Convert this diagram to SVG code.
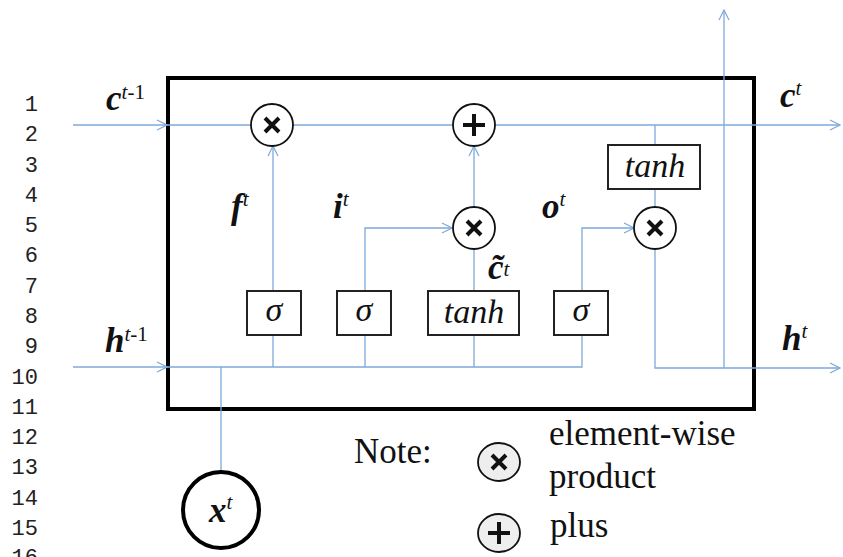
<svg xmlns="http://www.w3.org/2000/svg" width="843" height="557" viewBox="0 0 843 557">
  <defs>
    <marker id="arr" viewBox="0 0 12 12" refX="11" refY="6" markerWidth="12" markerHeight="12" markerUnits="userSpaceOnUse" orient="auto">
      <path d="M1,1 L11,6 L1,11" fill="none" stroke="#7ea9db" stroke-width="1.2"/>
    </marker>
  </defs>
  <style>
    .ln { font-family: 'Liberation Mono', monospace; font-size: 22px; fill: #222; text-anchor: end; }
    .wire { fill: none; stroke: #7ea9db; stroke-width: 1.3; }
    .op { fill: #fff; stroke: #111; stroke-width: 1.8; }
    .opl { fill: #eee; stroke: #111; stroke-width: 1.8; }
    .glyph { stroke: #111; stroke-width: 4; fill: none; }
    .box { fill: #fff; stroke: #222; stroke-width: 2; }
    .fn { font-family: 'Liberation Serif', serif; font-style: italic; font-size: 34px; fill: #111; text-anchor: middle; }
    .var { font-family: 'Liberation Serif', serif; font-style: italic; font-weight: bold; font-size: 35px; fill: #111; }
    .sup { font-style: italic; font-weight: normal; font-size: 21px; }
    .up { font-style: normal; font-weight: normal; font-size: 21px; }
    .note { font-family: 'Liberation Serif', serif; font-size: 35px; fill: #111; }
  </style>

  <!-- line numbers -->
  <g id="line-numbers">
    <text class="ln" x="38" y="111">1</text>
    <text class="ln" x="38" y="141">2</text>
    <text class="ln" x="38" y="172">3</text>
    <text class="ln" x="38" y="202">4</text>
    <text class="ln" x="38" y="232">5</text>
    <text class="ln" x="38" y="262">6</text>
    <text class="ln" x="38" y="293">7</text>
    <text class="ln" x="38" y="323">8</text>
    <text class="ln" x="38" y="353">9</text>
    <text class="ln" x="38" y="384">10</text>
    <text class="ln" x="38" y="414">11</text>
    <text class="ln" x="38" y="444">12</text>
    <text class="ln" x="38" y="474">13</text>
    <text class="ln" x="38" y="505">14</text>
    <text class="ln" x="38" y="535">15</text>
    <text class="ln" x="38" y="564">16</text>
  </g>

  <!-- cell boundary -->
  <g id="cell">
    <rect x="168" y="78" width="586" height="331" fill="none" stroke="#000" stroke-width="4"/>
  </g>

  <!-- connectors -->
  <g id="connectors">
    <line class="wire" x1="73" y1="125" x2="167" y2="125" marker-end="url(#arr)"/>
    <line class="wire" x1="167" y1="125" x2="251" y2="125"/>
    <line class="wire" x1="293" y1="125" x2="453" y2="125"/>
    <line class="wire" x1="495" y1="125" x2="840" y2="125" marker-end="url(#arr)"/>
    <line class="wire" x1="73" y1="367" x2="167" y2="367" marker-end="url(#arr)"/>
    <polyline class="wire" points="167,367 582,367 582,335"/>
    <line class="wire" x1="273" y1="367" x2="273" y2="335"/>
    <line class="wire" x1="365" y1="367" x2="365" y2="335"/>
    <line class="wire" x1="474" y1="367" x2="474" y2="335"/>
    <line class="wire" x1="221" y1="367" x2="221" y2="471"/>
    <line class="wire" x1="273" y1="291" x2="273" y2="146" marker-end="url(#arr)"/>
    <polyline class="wire" points="365,291 365,228 452,228" marker-end="url(#arr)"/>
    <line class="wire" x1="474" y1="291" x2="474" y2="249"/>
    <line class="wire" x1="474" y1="207" x2="474" y2="146" marker-end="url(#arr)"/>
    <polyline class="wire" points="582,291 582,228 634,228" marker-end="url(#arr)"/>
    <line class="wire" x1="655" y1="125" x2="655" y2="145"/>
    <line class="wire" x1="655" y1="189" x2="655" y2="207"/>
    <polyline class="wire" points="655,249 655,368 840,368" marker-end="url(#arr)"/>
    <line class="wire" x1="724" y1="368" x2="724" y2="10" marker-end="url(#arr)"/>
  </g>

  <!-- pointwise operations -->
  <g id="forget-mul">
    <circle class="op" cx="272" cy="125" r="21"/>
    <path class="glyph" d="M265,118 L279,132 M279,118 L265,132"/>
  </g>
  <g id="cell-add">
    <circle class="op" cx="474" cy="125" r="21"/>
    <path class="glyph" d="M463,125 L485,125 M474,114 L474,136"/>
  </g>
  <g id="input-mul">
    <circle class="op" cx="474" cy="228" r="21"/>
    <path class="glyph" d="M467,221 L481,235 M481,221 L467,235"/>
  </g>
  <g id="output-mul">
    <circle class="op" cx="655" cy="228" r="21"/>
    <path class="glyph" d="M648,221 L662,235 M662,221 L648,235"/>
  </g>

  <!-- activation layers -->
  <g id="sigma-f">
    <rect class="box" x="247" y="291" width="54" height="44"/>
    <text class="fn" x="274" y="321">σ</text>
  </g>
  <g id="sigma-i">
    <rect class="box" x="337" y="291" width="54" height="44"/>
    <text class="fn" x="364" y="321">σ</text>
  </g>
  <g id="tanh-c">
    <rect class="box" x="428" y="291" width="91" height="44"/>
    <text class="fn" x="474" y="323">tanh</text>
  </g>
  <g id="sigma-o">
    <rect class="box" x="554" y="291" width="54" height="44"/>
    <text class="fn" x="581" y="321">σ</text>
  </g>
  <g id="tanh-out">
    <rect class="box" x="608" y="145" width="92" height="44"/>
    <text class="fn" x="655" y="177">tanh</text>
  </g>

  <!-- input node -->
  <g id="x-input">
    <circle cx="221" cy="510" r="38" fill="#fff" stroke="#000" stroke-width="4"/>
    <text class="var" x="209" y="522">x<tspan class="sup" dy="-13">t</tspan></text>
  </g>

  <!-- signal labels -->
  <g id="labels">
    <text class="var" x="106" y="110">c<tspan class="sup" dy="-11">t</tspan><tspan class="up">-1</tspan></text>
    <text class="var" x="105" y="352">h<tspan class="sup" dy="-11">t</tspan><tspan class="up">-1</tspan></text>
    <text class="var" x="780" y="107">c<tspan class="sup" dy="-12">t</tspan></text>
    <text class="var" x="782" y="350">h<tspan class="sup" dy="-12">t</tspan></text>
    <text class="var" x="231" y="218">f<tspan class="sup" dy="-12">t</tspan></text>
    <text class="var" x="333" y="218">i<tspan class="sup" dy="-12">t</tspan></text>
    <text class="var" x="542" y="218">o<tspan class="sup" dy="-12">t</tspan></text>
    <text class="var" x="488" y="279">c̃<tspan class="sup" dy="-3" font-style="normal">t</tspan></text>
  </g>

  <!-- legend -->
  <g id="legend">
    <text class="note" x="354" y="463">Note:</text>
    <ellipse class="opl" cx="499" cy="462" rx="21" ry="19"/>
    <path class="glyph" d="M492,455 L506,469 M506,455 L492,469"/>
    <text class="note" x="549" y="445">element-wise</text>
    <text class="note" x="549" y="488">product</text>
    <ellipse class="opl" cx="499" cy="533" rx="21" ry="19"/>
    <path class="glyph" d="M488,533 L510,533 M499,522 L499,544"/>
    <text class="note" x="550" y="537">plus</text>
  </g>
</svg>
